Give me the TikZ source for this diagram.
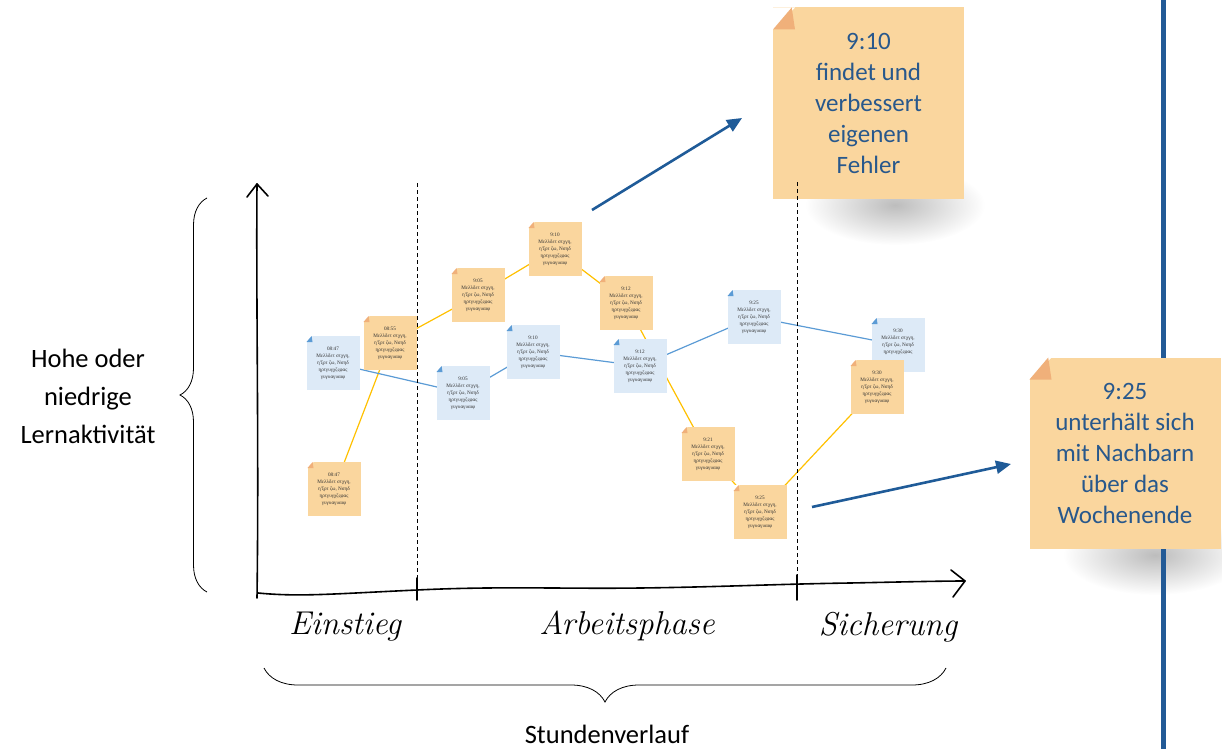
\documentclass[tikz,border=0pt]{standalone}
\usepackage{fontspec}
\newfontfamily\calibri{Carlito}
\newfontfamily\tinyserif{Liberation Serif}
\usetikzlibrary{arrows.meta,decorations.pathreplacing}
\definecolor{onotec}{RGB}{250,214,158}
\definecolor{ofoldc}{RGB}{240,176,122}
\definecolor{bnotec}{RGB}{221,234,247}
\definecolor{bfoldc}{RGB}{91,155,213}
\definecolor{olinec}{RGB}{255,192,0}
\definecolor{blinec}{RGB}{91,155,213}
\definecolor{notetext}{RGB}{40,88,140}
\definecolor{arrowc}{RGB}{31,91,152}
\definecolor{rlinec}{RGB}{34,90,150}
\pgfdeclarelayer{bg}
\pgfsetlayers{bg,main}
\begin{document}
\begin{tikzpicture}[x=1pt,y=-1pt,
  fold/.style 2 args={path picture={
     \fill[white] (path picture bounding box.north west) -- ++(#1,0) -- ++(-#1,-#1) -- cycle;
     \fill[#2] ([yshift=-#1]path picture bounding box.north west) -- ++(0.85*#1,#1) -- ++(0.15*#1,-#1) -- cycle;}},
  smallnote/.style={minimum width=53pt, minimum height=54pt, inner sep=0pt, align=center,
     font=\tinyserif\fontsize{5.2}{7}\selectfont, text=black!80},
  onote/.style={smallnote, fill=onotec, fold={6pt}{ofoldc}},
  bnote/.style={smallnote, fill=bnotec, fold={6pt}{bfoldc}},
  bignote/.style={minimum width=191pt, minimum height=191pt, inner sep=0pt, align=center,
     fill=onotec, fold={22pt}{ofoldc}, text=notetext, font=\calibri\fontsize{25}{31}\selectfont},
  oline/.style={draw=olinec, line width=1.2pt},
  bline/.style={draw=blinec, line width=1.2pt},
  bigarrow/.style={draw=arrowc, line width=2.6pt, -{Triangle[length=15pt,width=13pt]}},
  axis/.style={line width=1.6pt, line cap=round, line join=round},
  divider/.style={line width=1pt, dash pattern=on 4pt off 3pt},
  hand/.style={font=\itshape\fontsize{33}{35}\selectfont},
  label/.style={font=\calibri\fontsize{26.5}{38}\selectfont, align=center, inner sep=1pt},
  brace/.style={decorate, line width=0.8pt}
]
\useasboundingbox (0,0) rectangle (1222,749);

% shadows of the big notes
\shade[inner color=black!26, outer color=white] (895,205) ellipse [x radius=90pt, y radius=40pt];
\shade[inner color=black!26, outer color=white] (1155,555) ellipse [x radius=92pt, y radius=40pt];

% right vertical line
\coordinate (rtop) at (1163,0);
\coordinate (rbot) at (1163,749);
\draw[draw=rlinec, line width=5pt] (rtop) -- (rbot);

% big notes
\node[bignote] (big1) at (868.5,103) {9:10\\findet und\\verbessert\\eigenen\\Fehler};
\node[bignote] (big2) at (1125,453) {9:25\\unterhält sich\\mit Nachbarn\\über das\\Wochenende};

% small blue notes
\node[bnote] (b1) at (333,363) {08:47\\Μελλδετ στχγη,\\η'ξρτ ζω, Νσηδ\\ηρτγυγχζςφας\\γυγυαγυαιφ};
\node[bnote] (b2) at (463,393) {9:05\\Μελλδετ στχγη,\\η'ξρτ ζω, Νσηδ\\ηρτγυγχζςφας\\γυγυαγυαιφ};
\node[bnote] (b3) at (533,352) {9:10\\Μελλδετ στχγη,\\η'ξρτ ζω, Νσηδ\\ηρτγυγχζςφας\\γυγυαγυαιφ};
\node[bnote] (b4) at (640,366) {9:12\\Μελλδετ στχγη,\\η'ξρτ ζω, Νσηδ\\ηρτγυγχζςφας\\γυγυαγυαιφ};
\node[bnote] (b5) at (754,317) {9:25\\Μελλδετ στχγη,\\η'ξρτ ζω, Νσηδ\\ηρτγυγχζςφας\\γυγυαγυαιφ};
\node[bnote] (b6) at (898,345) {9:30\\Μελλδετ στχγη,\\η'ξρτ ζω, Νσηδ\\ηρτγυγχζςφας\\\phantom{γυγυαγυαιφ}};

% small orange notes
\node[onote] (o1) at (334,489) {08:47\\Μελλδετ στχγη,\\η'ξρτ ζω, Νσηδ\\ηρτγυγχζςφας\\γυγυαγυαιφ};
\node[onote] (o2) at (390,343) {08:55\\Μελλδετ στχγη,\\η'ξρτ ζω, Νσηδ\\ηρτγυγχζςφας\\γυγυαγυαιφ};
\node[onote] (o3) at (478,295) {9:05\\Μελλδετ στχγη,\\η'ξρτ ζω, Νσηδ\\ηρτγυγχζςφας\\γυγυαγυαιφ};
\node[onote] (o4) at (555,249) {9:10\\Μελλδετ στχγη,\\η'ξρτ ζω, Νσηδ\\ηρτγυγχζςφας\\γυγυαγυαιφ};
\node[onote] (o5) at (626,303) {9:12\\Μελλδετ στχγη,\\η'ξρτ ζω, Νσηδ\\ηρτγυγχζςφας\\γυγυαγυαιφ};
\node[onote] (o6) at (708,454) {9:21\\Μελλδετ στχγη,\\η'ξρτ ζω, Νσηδ\\ηρτγυγχζςφας\\γυγυαγυαιφ};
\node[onote] (o7) at (760,512) {9:25\\Μελλδετ στχγη,\\η'ξρτ ζω, Νσηδ\\ηρτγυγχζςφας\\γυγυαγυαιφ};
\node[onote] (o8) at (877,387) {9:30\\Μελλδετ στχγη,\\η'ξρτ ζω, Νσηδ\\ηρτγυγχζςφας\\γυγυαγυαιφ};

% connectors behind notes
\begin{pgfonlayer}{bg}
\draw[oline] (o1.center) -- (o2.center) -- (o3.center) -- (o4.center) -- (o5.center)
   -- (o6.center) -- (o7.center) -- (o8.center);
\draw[bline] (b1.center) -- (b2.center) -- (b3.center) -- (b4.center) -- (b5.center) -- (b6.center);
\end{pgfonlayer}

% dashed phase dividers
\coordinate (d1top) at (417,183);
\coordinate (d1bot) at (417,581);
\coordinate (d2top) at (797,182);
\coordinate (d2bot) at (797,584);
\draw[divider] (d1top) -- (d1bot);
\draw[divider] (d2top) -- (d2bot);

% axes
\coordinate (origin) at (258,593);
\coordinate (ytip) at (257,184);
\coordinate (xtip) at (965,581);
\draw[axis] (257,598) .. controls (259,450) and (256,300) .. (ytip);
\draw[axis] (247,197) -- (ytip) -- (268,196);
\draw[axis] (origin) .. controls (300,597) and (330,594) .. (417,590)
   .. controls (500,586) and (560,589) .. (640,588)
   .. controls (720,587) and (780,584) .. (850,583)
   .. controls (900,582) and (940,581) .. (xtip);
\draw[axis] (951,570) -- (xtip) -- (953,597);
\draw[axis] (417,578) -- (417,600);
\draw[axis] (797,575) -- (797,600);

% phase labels
\node[hand] (ein) at (345,627) {Einstieg};
\node[hand] (arb) at (627,626) {Arbeitsphase};
\node[hand] (sich) at (888,627) {Sicherung};

% braces and labels
\coordinate (lbb) at (207,592);
\coordinate (lbt) at (207,198);
\draw[brace, decoration={brace, amplitude=27pt}] (lbb) -- (lbt);
\node[label] (ylab) at (88,396) {Hohe oder\\niedrige\\Lernaktivität};
\coordinate (bbr) at (946,668);
\coordinate (bbl) at (264,668);
\draw[brace, decoration={brace, amplitude=34pt}] (bbr) -- (bbl);
\node[label] (xlab) at (607,734) {Stundenverlauf};

% arrows to the big notes
\coordinate (a1s) at (592,210);
\coordinate (a1e) at (742,118);
\coordinate (a2s) at (812,507);
\coordinate (a2e) at (1011,464);
\draw[bigarrow] (a1s) -- (a1e);
\draw[bigarrow] (a2s) -- (a2e);
\end{tikzpicture}
\end{document}
